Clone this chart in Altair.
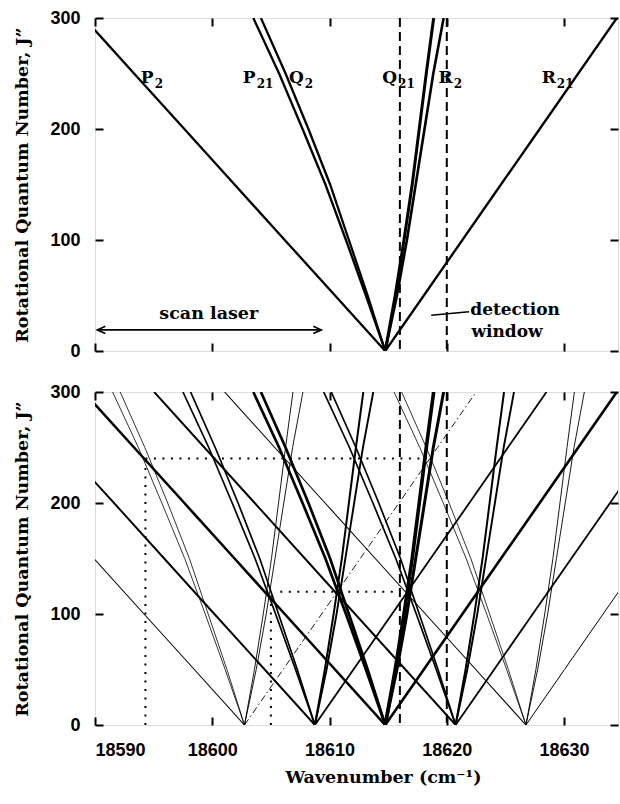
import altair as alt
import pandas as pd

# ---------------- data ----------------
X_DOMAIN = [18590, 18634.6]
Y_DOMAIN = [0, 300]
x_ticks = [18590, 18600, 18610, 18620, 18630]
y_ticks = [0, 100, 200, 300]

# rotational quantum number samples and branch offsets (cm-1) from band origin
J_pts = [0, 50, 100, 150, 200, 250, 300]
branch_names = ["P2", "P21", "Q2", "Q21", "R2", "R21"]
P2_off = [0.0, -4.28, -8.57, -12.85, -17.13, -21.42, -25.70]
P21_off = [0.0, -1.65, -3.35, -5.10, -7.05, -9.05, -11.25]
Q2_off = [0.0, -1.50, -3.10, -4.70, -6.55, -8.50, -10.60]
Q21_off = [0.0, 0.85, 1.60, 2.30, 2.90, 3.50, 4.13]
R2_off = [0.0, 1.00, 1.85, 2.60, 3.35, 4.10, 4.98]
R21_off = [0.0, 3.29, 6.58, 9.87, 13.17, 16.46, 19.75]
offsets = [P2_off, P21_off, Q2_off, Q21_off, R2_off, R21_off]

top_origin = 18614.75
bottom_origins = [18602.75, 18608.75, 18614.75, 18620.75, 18626.75]
detection_window = [18616.0, 18620.0]

# branch labels (upper panel)
label_letters = ["P", "P", "Q", "Q", "R", "R"]
label_subs = ["2", "21", "2", "21", "2", "21"]
label_x = [18595.0, 18603.7, 18607.8, 18615.76, 18620.5, 18629.3]
label_J = [246, 246, 246, 246, 246, 246]

# annotations (upper panel)
scan_x = [18590.2, 18609.3]
scan_J = [19, 19]
scan_text = ["scan laser"]
scan_text_x = [18599.7]
scan_text_J = [33]
leader_x = [18618.67, 18621.9]
leader_J = [32.2, 35.4]
det_text = ["detection", "window"]
det_text_x = [18622.0, 18622.1]
det_text_J = [36.5, 17.5]

# dotted guide lines (lower panel)
dot_h_J = [240, 120]
dot_h_x1 = [18594.3, 18605.8]
dot_h_x2 = [18618.3, 18616.0]
dot_v_x = [18594.3, 18605.0]
dot_v_J2 = [240, 120]

# ---------------- styles ----------------
top_width = {"P2": 2.3, "P21": 2.3, "Q2": 2.3, "Q21": 3.0, "R2": 2.6, "R21": 2.3}
band_width = [
    {"P2": 1.1, "P21": 0.8, "Q2": 0.8, "Q21": 0.9, "R2": 0.9, "R21": 0.9},
    {"P2": 1.9, "P21": 1.7, "Q2": 1.7, "Q21": 2.0, "R2": 1.9, "R21": 1.8},
    {"P2": 2.6, "P21": 2.7, "Q2": 2.7, "Q21": 3.6, "R2": 3.0, "R21": 2.6},
    {"P2": 1.9, "P21": 1.7, "Q2": 1.7, "Q21": 2.0, "R2": 1.9, "R21": 1.8},
    {"P2": 1.1, "P21": 0.8, "Q2": 0.8, "Q21": 0.9, "R2": 0.9, "R21": 1.0},
]
dashdot_lines = {(0, "R21")}

SANS = "Liberation Sans"
SERIF = "DejaVu Serif"
W = 523
H = 333


def build_lines(origins, widths):
    rows = []
    for b, org in enumerate(origins):
        for name, off in zip(branch_names, offsets):
            wdt = widths[b][name]
            dash = (b, name) in dashdot_lines if len(origins) > 1 else False
            for j, o in zip(J_pts, off):
                rows.append({"id": f"{b}-{name}", "x": org + o, "J": j,
                             "w": wdt, "dash": "dd" if dash else "solid"})
    return pd.DataFrame(rows)


top_df = build_lines([top_origin], [top_width])
bot_df = build_lines(bottom_origins, band_width)

xs = alt.Scale(domain=X_DOMAIN, nice=False, zero=False)
ys = alt.Scale(domain=Y_DOMAIN, nice=False, zero=False)

axis_common = dict(domain=False, grid=False, ticks=True, tickSize=8, tickWidth=2,
                   tickColor="black", offset=-8, labelFont=SANS, labelFontSize=18,
                   labelFontWeight="bold", labelColor="black", format="d")

Y_TITLE = "Rotational Quantum Number, J\u201d"


def x_axis(show_labels):
    kw = dict(axis_common)
    if show_labels:
        return alt.Axis(orient="bottom", values=x_ticks, labels=True, labelPadding=16,
                        title="Wavenumber (cm\u207b\u00b9)", titleFont=SERIF,
                        titleFontSize=17.5, titleFontWeight="bold", titleColor="black",
                        titleX=288, titlePadding=9, **kw)
    return alt.Axis(orient="bottom", values=x_ticks, labels=False, title=None, **kw)


def y_axis():
    return alt.Axis(orient="left", values=y_ticks, labelPadding=15, title=Y_TITLE,
                    titleFont=SERIF, titleFontSize=17.5, titleFontWeight="bold",
                    titleColor="black", titlePadding=18, **axis_common)


def mirror_layer():
    d = pd.DataFrame({"x": [18600.0], "J": [100.0]})
    return alt.Chart(d).mark_point(opacity=0).encode(
        x=alt.X("x:Q", scale=xs, axis=alt.Axis(orient="top", values=x_ticks,
                                                labels=False, title=None, **axis_common)),
        y=alt.Y("J:Q", scale=ys, axis=alt.Axis(orient="right", values=y_ticks,
                                                labels=False, title=None, **axis_common)),
    )


def line_layers(df, show_labels):
    solid = alt.Chart(df).transform_filter(alt.datum.dash == "solid").mark_line(
        clip=True, color="black", strokeCap="butt").encode(
        x=alt.X("x:Q", scale=xs, axis=x_axis(show_labels)),
        y=alt.Y("J:Q", scale=ys, axis=y_axis()),
        detail="id:N",
        order="J:Q",
        strokeWidth=alt.StrokeWidth("w:Q", scale=None),
    )
    layers = [solid]
    if (df["dash"] == "dd").any():
        dd = alt.Chart(df).transform_filter(alt.datum.dash == "dd").mark_line(
            clip=True, color="black", strokeDash=[7, 3, 1.5, 3]).encode(
            x=alt.X("x:Q", scale=xs, axis=None),
            y=alt.Y("J:Q", scale=ys, axis=None),
            detail="id:N",
            order="J:Q",
            strokeWidth=alt.StrokeWidth("w:Q", scale=None),
        )
        layers.append(dd)
    return layers


def detection_layer():
    d = pd.DataFrame({"x": detection_window})
    return alt.Chart(d).mark_rule(color="black", strokeWidth=2, strokeDash=[9, 5]).encode(
        x=alt.X("x:Q", scale=xs, axis=None))


def xy(field_x="x", field_y="J"):
    return dict(x=alt.X(f"{field_x}:Q", scale=xs, axis=None),
                y=alt.Y(f"{field_y}:Q", scale=ys, axis=None))


# ---------------- upper panel ----------------
lab_df = pd.DataFrame({"x": label_x, "J": label_J, "L": label_letters, "S": label_subs})
letters = alt.Chart(lab_df).mark_text(font=SERIF, fontWeight="bold", fontSize=17,
                                      align="right", baseline="middle", color="black").encode(
    text="L:N", **xy())
subs = alt.Chart(lab_df).mark_text(font=SERIF, fontWeight="bold", fontSize=12,
                                   align="left", baseline="middle", dx=1, dy=6,
                                   color="black").encode(text="S:N", **xy())

scan_df = pd.DataFrame({"x": [scan_x[0]], "x2": [scan_x[1]], "J": [scan_J[0]]})
scan_rule = alt.Chart(scan_df).mark_rule(color="black", strokeWidth=1.6).encode(
    x2="x2:Q", **xy())
heads_df = pd.DataFrame({"x": scan_x, "J": scan_J, "side": ["l", "r"]})
head_l = alt.Chart(heads_df).transform_filter(alt.datum.side == "l").mark_point(
    shape="M2,-0.9L0,0L2,0.9", size=64, filled=False, strokeWidth=1.6,
    color="black", opacity=1).encode(**xy())
head_r = alt.Chart(heads_df).transform_filter(alt.datum.side == "r").mark_point(
    shape="M-2,-0.9L0,0L-2,0.9", size=64, filled=False, strokeWidth=1.6,
    color="black", opacity=1).encode(**xy())
scan_lbl = alt.Chart(pd.DataFrame({"x": scan_text_x, "J": scan_text_J, "t": scan_text})).mark_text(
    font=SERIF, fontWeight="bold", fontSize=17.5, align="center", baseline="middle",
    color="black").encode(text="t:N", **xy())

lead_df = pd.DataFrame({"x": [leader_x[0]], "x2": [leader_x[1]],
                        "J": [leader_J[0]], "J2": [leader_J[1]]})
leader = alt.Chart(lead_df).mark_rule(color="black", strokeWidth=1.4).encode(
    x2="x2:Q", y2="J2:Q", **xy())
det_lbl = alt.Chart(pd.DataFrame({"x": det_text_x, "J": det_text_J, "t": det_text})).mark_text(
    font=SERIF, fontWeight="bold", fontSize=17, align="left", baseline="middle",
    color="black").encode(text="t:N", **xy())

top = alt.layer(
    *line_layers(top_df, False),
    detection_layer(), letters, subs, scan_rule, head_l, head_r, scan_lbl,
    leader, det_lbl, mirror_layer(),
).properties(width=W, height=H)

# ---------------- lower panel ----------------
dh_df = pd.DataFrame({"x": dot_h_x1, "x2": dot_h_x2, "J": dot_h_J})
dot_h = alt.Chart(dh_df).mark_rule(color="black", strokeWidth=2, strokeDash=[2, 6.5]).encode(
    x2="x2:Q", **xy())
dv_df = pd.DataFrame({"x": dot_v_x, "J": [0, 0], "J2": dot_v_J2})
dot_v = alt.Chart(dv_df).mark_rule(color="black", strokeWidth=2, strokeDash=[2, 6.5]).encode(
    y2="J2:Q", **xy())

bottom = alt.layer(
    *line_layers(bot_df, True),
    detection_layer(), dot_h, dot_v, mirror_layer(),
).properties(width=W, height=H)

chart = alt.vconcat(top, bottom, spacing=21).properties(
    padding={"left": 13, "top": 8, "right": 0, "bottom": 5}
).configure_view(stroke="black", strokeWidth=2).configure(background="white")

chart.save("out.html", embed_options={"renderer": "svg", "actions": False})
